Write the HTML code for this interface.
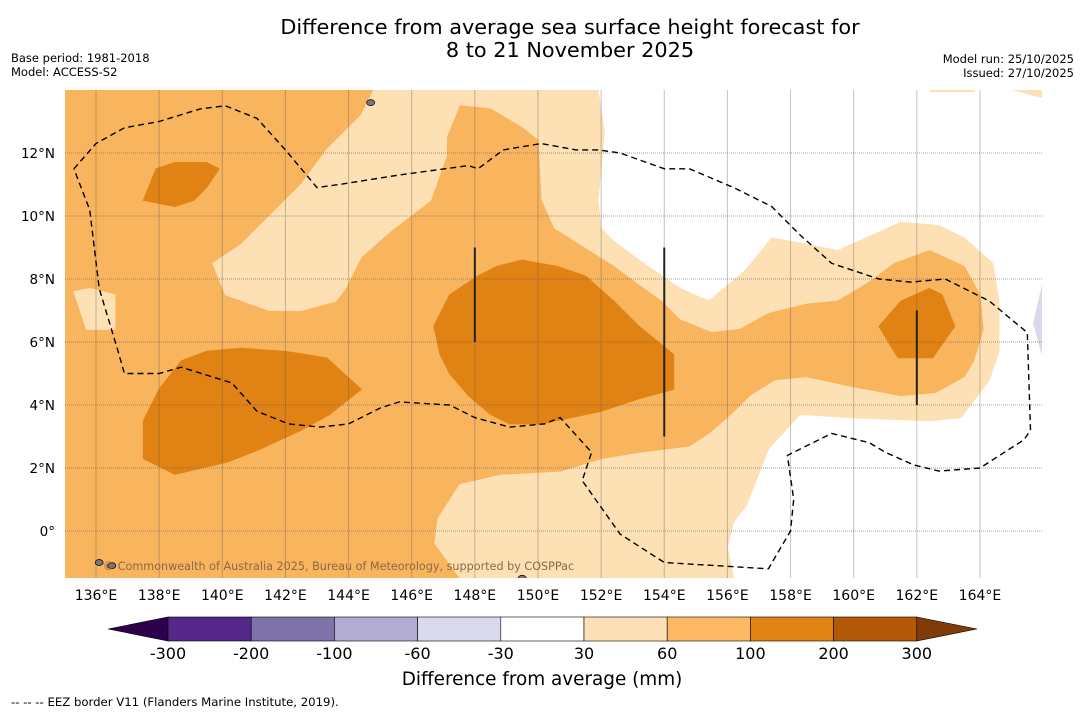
<!DOCTYPE html>
<html><head><meta charset="utf-8"><style>
body{margin:0;background:#fff;font-family:"Liberation Sans","DejaVu Sans",sans-serif;}
#w{position:relative;width:1085px;height:713px;overflow:hidden;background:#fff}
svg text{font-family:"DejaVu Sans","Liberation Sans",sans-serif}
</style></head><body>
<div id="w">
<svg id="s" width="1085" height="713">
<text x="570" y="34" text-anchor="middle" font-size="20.8">Difference from average sea surface height forecast for</text>
<text x="570" y="57" text-anchor="middle" font-size="20.8">8 to 21 November 2025</text>
<text x="11" y="62" font-size="11.5">Base period: 1981-2018</text>
<text x="11" y="76" font-size="11.5">Model: ACCESS-S2</text>
<text x="1074" y="63" font-size="11.5" text-anchor="end">Model run: 25/10/2025</text>
<text x="1074" y="77" font-size="11.5" text-anchor="end">Issued: 27/10/2025</text>
<g id="map"></g>
<g id="cb"></g>
<text x="542" y="685" text-anchor="middle" font-size="18.4">Difference from average (mm)</text>
<text x="11" y="706" font-size="11.7">--  --  -- EEZ border V11 (Flanders Marine Institute, 2019).</text>
</svg>
</div>
<script>
const lonTicks=[136,138,140,142,144,146,148,150,152,154,156,158,160,162,164];
const latTicks=[0,2,4,6,8,10,12];
const levelLabels=["-300","-200","-100","-60","-30","30","60","100","200","300"];
const levelColors=["#542788","#8073ac","#b2abd2","#d8daeb","#ffffff","#fee0b6","#fdb863","#e08214","#b35806"];
const lightRegion=[[135,14],[151.9,14],[152.1,12.7],[151.9,10.5],[152,9.6],[152.4,9.2],[153.2,8.6],[154.5,7.7],[155.4,7.3],[155.9,7.7],[156.6,8.3],[157.4,9.3],[158,9.2],[159.5,8.9],[161.5,9.8],[162.7,9.7],[163.5,9.3],[164.4,8.5],[164.6,7.3],[164.6,5.7],[164.3,4.8],[163.4,3.6],[162.4,3.5],[159.9,3.6],[158.3,3.7],[157.3,2.6],[156.6,0.8],[156.2,0.3],[156,-0.5],[156.2,-1.5],[135,-1.5]];
const orangeRegion=[[135,14],[147.5,14],[147.5,13.5],[148.5,13.4],[149.5,12.8],[150,12.4],[150.1,10.5],[150.5,9.6],[151.6,8.9],[152.4,8.4],[153.2,7.8],[153.9,7.3],[154.5,6.7],[155.5,6.3],[156.4,6.4],[157.3,6.9],[158.5,7.2],[159.5,7.3],[160.5,7.9],[161.3,8.5],[162.4,8.9],[163.5,8.4],[164,7.5],[164.1,6.4],[163.8,5.4],[163.5,4.9],[162.6,4.4],[161.5,4.3],[159.9,4.6],[158.5,4.9],[157.5,4.8],[156.7,4.3],[156.1,3.7],[155.4,3.1],[154.8,2.7],[153.2,2.5],[152,2.3],[150.7,1.9],[148.8,1.8],[147.5,1.5],[146.8,0.4],[146.7,-0.4],[147.5,-1.5],[135,-1.5]];
const lightBand=[[144.8,14],[147.7,14],[147.5,13.5],[147.1,12.5],[147.1,11.9],[146.6,10.5],[145.3,9.5],[144.4,8.7],[143.9,7.7],[143.6,7.3],[142.5,7],[141.5,7],[140.1,7.5],[139.7,8.5],[140.6,9.1],[141.5,10],[142.5,11],[143.3,12.1],[143.9,12.7],[144.4,13.2]];
const lightPatch=[[135.3,7.6],[135.8,7.7],[136.6,7.5],[136.6,6.4],[135.7,6.4],[135.5,7]];
const dark1=[[137.9,11.5],[138.5,11.7],[139.5,11.7],[139.9,11.5],[139.5,10.9],[139.1,10.5],[138.5,10.3],[137.5,10.5]];
const dark2=[[137.5,3.5],[138,4.5],[138.7,5.4],[139.5,5.7],[140.6,5.8],[142,5.7],[143.3,5.5],[144.4,4.5],[143.4,3.7],[142.5,3.2],[141.2,2.6],[140.2,2.2],[138.5,1.8],[137.5,2.3]];
const dark3=[[146.7,6.5],[147.2,7.5],[148.1,8.1],[148.7,8.4],[149.5,8.6],[150.6,8.4],[151.5,8.1],[152.4,7.3],[153.2,6.5],[154.3,5.6],[154.3,4.5],[153.2,4.2],[152,3.8],[150.1,3.4],[149.1,3.4],[148.5,3.7],[147.8,4.3],[147.2,5],[146.9,5.6]];
const dark4=[[160.8,6.5],[161.5,7.3],[162.4,7.7],[162.8,7.5],[163.2,6.5],[162.5,5.5],[161.4,5.5]];
const lavender=[[166,7.9],[165.7,6.6],[166,5.5]];
const eez=[[135.3,11.5],[136,12.3],[136.9,12.8],[138,13],[139.3,13.4],[140.1,13.5],[141.1,13.1],[142,12.1],[143,10.9],[143.7,11],[145.6,11.3],[147.8,11.6],[148.1,11.5],[148.9,12.1],[150.1,12.3],[151.2,12.1],[151.9,12.1],[152.6,12],[154,11.5],[154.8,11.5],[156.2,10.9],[157.4,10.3],[158.3,9.4],[159.3,8.5],[160.8,8],[161.8,7.9],[162.9,8],[163.1,7.9],[164.3,7.3],[165.5,6.3],[165.6,3.2],[165.4,2.9],[164,2],[162.7,1.9],[161.9,2.1],[161,2.5],[160.5,2.8],[159.3,3.1],[158.1,2.5],[157.9,2.4],[158.1,1],[158,0],[157.3,-1.2],[154,-1],[152.6,-0.1],[151.4,1.6],[151.7,2.5],[150.7,3.6],[150.2,3.4],[149.1,3.3],[148,3.6],[147.2,4],[145.6,4.1],[145,3.9],[144,3.4],[143.1,3.3],[142.1,3.4],[141.1,3.8],[140.3,4.7],[138.7,5.2],[138,5],[136.9,5],[136.7,5.7],[136.1,7.7],[135.8,10.2],[135.3,11.5]];
const markerLon=[148,154,162];
const markerLatTop=[9,9,7];
const markerLatBot=[6,3,4];

const NS='http://www.w3.org/2000/svg';
const X0=65,X1=1042,Y0=90,Y1=578;
const xs=lon=>96+(lon-136)*31.57;
const ys=lat=>531-lat*31.5;
function mk(p,tag,at){const e=document.createElementNS(NS,tag);for(const k in at)e.setAttribute(k,at[k]);p.appendChild(e);return e;}
const map=document.getElementById('map');
const defs=mk(map,'defs',{});const cp=mk(defs,'clipPath',{id:'clip'});mk(cp,'rect',{x:X0,y:Y0,width:X1-X0,height:Y1-Y0});
const g=mk(map,'g',{'clip-path':'url(#clip)'});
let bg=mk(g,'rect',{x:X0,y:Y0,width:X1-X0,height:Y1-Y0,fill:'#ffffff'});


const pts=a=>a.map(p=>xs(p[0]).toFixed(1)+','+ys(p[1]).toFixed(1)).join(' ');
const layers=[[lightRegion,'#fde0b3','contour-30-60'],[orangeRegion,'#f9b45e','contour-60-100'],[lightBand,'#fde0b3','contour-30-60-band'],[lightPatch,'#fde0b3','contour-30-60-patch'],[dark1,'#e08214','contour-100-200-a'],[dark2,'#e08214','contour-100-200-b'],[dark3,'#e08214','contour-100-200-c'],[dark4,'#e08214','contour-100-200-d'],[lavender,'#d8daeb','contour-neg-30-60']];
layers.forEach(l=>{const e=mk(g,'polygon',{points:pts(l[0]),fill:l[1],stroke:l[1],'stroke-width':1});

});
mk(g,'rect',{x:930,y:90,width:45,height:2,fill:'#fde0b3'});
mk(g,'polygon',{points:'1012,90 1042,90 1042,98',fill:'#fde0b3'});
lonTicks.forEach(t=>{const e=mk(g,'line',{x1:xs(t),x2:xs(t),y1:Y0,y2:Y1,stroke:'#555','stroke-opacity':0.35,'stroke-width':1});

});
latTicks.forEach(t=>{const e=mk(g,'line',{x1:X0,x2:X1,y1:ys(t),y2:ys(t),stroke:'#555','stroke-opacity':0.55,'stroke-width':1,'stroke-dasharray':'1,1'});

});
[[136.1,-1.0],[136.5,-1.1],[149.5,-1.5],[144.7,13.6]].forEach(p=>mk(g,'ellipse',{cx:xs(p[0]),cy:ys(p[1]),rx:4,ry:3,fill:'#777',stroke:'#000','stroke-width':0.7}));
let ez=mk(g,'polyline',{points:pts(eez),fill:'none',stroke:'#000','stroke-width':1.4,'stroke-dasharray':'6,4'});


markerLon.forEach((lo,i)=>{const e=mk(g,'line',{x1:xs(lo),x2:xs(lo),y1:ys(markerLatTop[i]),y2:ys(markerLatBot[i]),stroke:'#222','stroke-width':2});

});
let cr=mk(g,'text',{x:103,y:570,'font-size':11.2,fill:'#8a6a45'});cr.textContent='© Commonwealth of Australia 2025, Bureau of Meteorology, supported by COSPPac';


lonTicks.forEach(t=>{const e=mk(map,'text',{x:xs(t),y:600,'text-anchor':'middle','font-size':14});e.textContent=t+'°E';

});
latTicks.forEach(t=>{const e=mk(map,'text',{x:55,y:ys(t)+5,'text-anchor':'end','font-size':13.5});e.textContent=t===0?'0°':t+'°N';

});
const cb=document.getElementById('cb');
const cbL=168,cbW=83.2,cbY=617,cbH=24;
mk(cb,'polygon',{points:`108,629 ${cbL},${cbY} ${cbL},${cbY+cbH}`,fill:'#2d004b',stroke:'#000','stroke-width':0.6});
levelColors.forEach((c,i)=>{const e=mk(cb,'rect',{x:cbL+i*cbW,y:cbY,width:cbW,height:cbH,fill:c,stroke:'#000','stroke-width':0.6});

});
const cbR=cbL+levelColors.length*cbW;
mk(cb,'polygon',{points:`${cbR},${cbY} 977,629 ${cbR},${cbY+cbH}`,fill:'#7f3b08',stroke:'#000','stroke-width':0.6});
levelLabels.forEach((l,i)=>{const e=mk(cb,'text',{x:cbL+i*cbW,y:659,'text-anchor':'middle','font-size':16});e.textContent=l;

});
</script>
</body></html>
